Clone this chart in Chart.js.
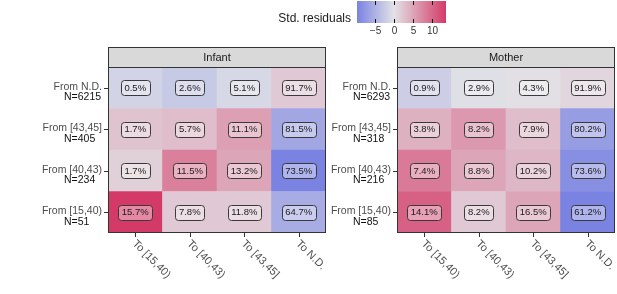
<!DOCTYPE html>
<html>
<head>
<meta charset="utf-8">
<script src="https://cdn.jsdelivr.net/npm/chart.js@4"></script>
<style>
  body { margin: 0; background: #fff; font-family: "Liberation Sans", Arial, sans-serif; }
  #wrap { position: relative; width: 617px; height: 294px; overflow: hidden; }
  canvas { position: absolute; top: 0; }
  .lg { position: absolute; color: #1a1a1a; }
</style>
</head>
<body>
<div id="wrap">
  <canvas id="infant" width="330" height="294" style="left:0"></canvas>
  <canvas id="mother" width="291" height="294" style="left:326px"></canvas>
  <div id="legend"></div>
</div>
<script>
// --- Data ---
const toLabels = ['To [15,40)', 'To [40,43)', 'To [43,45]', 'To N.D.'];
// rows listed top to bottom
const fromLabels = ['From N.D.', 'From [43,45]', 'From [40,43)', 'From [15,40)'];
const infantN = [6215, 405, 234, 51];
const motherN = [6293, 318, 216, 85];
const infantPct = [
  [0.5, 2.6, 5.1, 91.7],
  [1.7, 5.7, 11.1, 81.5],
  [1.7, 11.5, 13.2, 73.5],
  [15.7, 7.8, 11.8, 64.7]
];
const motherPct = [
  [0.9, 2.9, 4.3, 91.9],
  [3.8, 8.2, 7.9, 80.2],
  [7.4, 8.8, 10.2, 73.6],
  [14.1, 8.2, 16.5, 61.2]
];
const infantResid = [
  [-1.5, -2.5, -1, 2],
  [2.5, 3, 5.5, -6],
  [1.5, 8, 5, -9.7],
  [13.7, 2, 2, -5.5]
];
const motherResid = [
  [-2, -0.3, 0.2, 1],
  [4, 6, 3, -7],
  [8.5, 5, 3.5, -8.5],
  [10.5, 2, 5, -9.7]
];
const residTicks = [-5, 0, 5, 10];

// --- Colour scale ---
const RMIN = -9.7, RMAX = 13.7;
const LOW = [122, 131, 226], MID = [226, 226, 230], HIGH = [212, 58, 104];
function mix(a, b, t) {
  return a.map((v, i) => Math.round(v + (b[i] - v) * t));
}
function residColor(r) {
  let c;
  if (r < 0) c = mix(MID, LOW, Math.min(1, r / RMIN));
  else c = mix(MID, HIGH, Math.min(1, r / RMAX));
  return 'rgb(' + c.join(',') + ')';
}

// --- Panel decorations: strip, border, axis text, cell labels ---
const panelPlugin = {
  id: 'panel',
  afterDatasetsDraw(chart, args, opts) {
    const ctx = chart.ctx;
    const a = chart.chartArea;
    const xs = chart.scales.x, ys = chart.scales.y;
    ctx.save();
    // cell labels
    ctx.font = '9.5px "Liberation Sans", Arial, sans-serif';
    ctx.textAlign = 'center';
    ctx.textBaseline = 'middle';
    chart.data.datasets.forEach((ds, di) => {
      const row = 3 - di;
      chart.getDatasetMeta(di).data.forEach((bar, ci) => {
        const txt = opts.pct[row][ci].toFixed(1) + '%';
        const cx = bar.x, cy = (bar.y + bar.base) / 2;
        const w = ctx.measureText(txt).width + 7, h = 15;
        ctx.beginPath();
        ctx.roundRect(Math.round(cx - w / 2) + 0.5, Math.round(cy - h / 2) + 0.5, Math.round(w), h, 3);
        ctx.fillStyle = 'rgba(255,255,255,0.4)';
        ctx.fill();
        ctx.lineWidth = 1;
        ctx.strokeStyle = '#3a3a3a';
        ctx.stroke();
        ctx.fillStyle = '#1a1a1a';
        ctx.fillText(txt, cx, cy + 0.5);
      });
    });
    // panel border
    ctx.strokeStyle = '#333';
    ctx.lineWidth = 1;
    ctx.strokeRect(Math.round(a.left) + 0.5, Math.round(a.top) + 0.5, Math.round(a.width) - 1, Math.round(a.height) - 1);
    // strip
    const sTop = a.top - 20;
    ctx.fillStyle = '#d9d9d9';
    ctx.fillRect(a.left, sTop, a.width, 20);
    ctx.strokeRect(Math.round(a.left) + 0.5, Math.round(sTop) + 0.5, Math.round(a.width) - 1, 20);
    ctx.fillStyle = '#1a1a1a';
    ctx.font = '11px "Liberation Sans", Arial, sans-serif';
    ctx.textAlign = 'center';
    ctx.fillText(opts.title, (a.left + a.right) / 2, sTop + 10.5);
    // y ticks and labels
    ctx.strokeStyle = '#333';
    ctx.font = '10.5px "Liberation Sans", Arial, sans-serif';
    fromLabels.forEach((lab, row) => {
      const y = ys.getPixelForValue(3.5 - row);
      ctx.beginPath();
      ctx.moveTo(a.left - 4, Math.round(y) + 0.5);
      ctx.lineTo(a.left, Math.round(y) + 0.5);
      ctx.stroke();
      ctx.textAlign = 'right';
      ctx.fillStyle = '#4d4d4d';
      ctx.fillText(lab, a.left - 6, y - 1);
      ctx.textAlign = 'left';
      ctx.fillStyle = '#111';
      ctx.fillText('N=' + opts.n[row], a.left - 44, y + 9.5);
    });
    // x ticks and rotated labels
    ctx.font = '11px "Liberation Sans", Arial, sans-serif';
    toLabels.forEach((lab, ci) => {
      const x = xs.getPixelForValue(ci);
      ctx.beginPath();
      ctx.moveTo(Math.round(x) + 0.5, a.bottom);
      ctx.lineTo(Math.round(x) + 0.5, a.bottom + 4);
      ctx.stroke();
      ctx.save();
      ctx.translate(x - 1, a.bottom + 9);
      ctx.rotate(Math.PI / 4);
      ctx.textAlign = 'left';
      ctx.fillStyle = '#4d4d4d';
      ctx.fillText(lab, 0, 0);
      ctx.restore();
    });
    ctx.restore();
  }
};

function makePanel(id, title, pct, resid, n, padLeft, padRight) {
  const datasets = [];
  for (let row = 3; row >= 0; row--) {
    datasets.push({
      data: [1, 1, 1, 1],
      backgroundColor: resid[row].map(residColor),
      borderWidth: 0,
      barPercentage: 1,
      categoryPercentage: 1
    });
  }
  return new Chart(document.getElementById(id), {
    type: 'bar',
    data: { labels: toLabels, datasets: datasets },
    options: {
      responsive: false,
      animation: false,
      devicePixelRatio: 1,
      layout: { padding: { left: padLeft, right: padRight, top: 67, bottom: 61 } },
      plugins: {
        legend: { display: false },
        tooltip: { enabled: false },
        panel: { title: title, pct: pct, n: n }
      },
      scales: {
        x: { display: false, stacked: true, offset: true },
        y: { display: false, stacked: true, min: 0, max: 4 }
      }
    },
    plugins: [panelPlugin]
  });
}

makePanel('infant', 'Infant', infantPct, infantResid, infantN, 108, 4);
makePanel('mother', 'Mother', motherPct, motherResid, motherN, 71, 2);

// --- Colour bar legend ---
(function () {
  const lg = document.getElementById('legend');
  const barLeft = 357, barTop = 1, barW = 89, barH = 22;
  const midPct = (-RMIN / (RMAX - RMIN) * 100).toFixed(1);
  let html = '<div class="lg" style="left:240px;top:10px;width:111px;text-align:right;font-size:12px;line-height:16px">Std. residuals</div>';
  html += '<div class="lg" style="left:' + barLeft + 'px;top:' + barTop + 'px;width:' + barW + 'px;height:' + barH +
    'px;background:linear-gradient(to right,' + residColor(RMIN) + ' 0%,' + residColor(0) + ' ' + midPct + '%,' + residColor(RMAX) + ' 100%)"></div>';
  residTicks.forEach(v => {
    const x = Math.round(barLeft + (v - RMIN) / (RMAX - RMIN) * barW);
    html += '<div class="lg" style="left:' + x + 'px;top:' + barTop + 'px;width:1px;height:4px;background:#111"></div>';
    html += '<div class="lg" style="left:' + x + 'px;top:' + (barTop + barH - 4) + 'px;width:1px;height:4px;background:#111"></div>';
    html += '<div class="lg" style="left:' + (x - 15) + 'px;top:25px;width:31px;text-align:center;font-size:10px;line-height:12px;color:#333">' +
      (v < 0 ? '\u2212' + Math.abs(v) : v) + '</div>';
  });
  lg.innerHTML = html;
})();
</script>
</body>
</html>
